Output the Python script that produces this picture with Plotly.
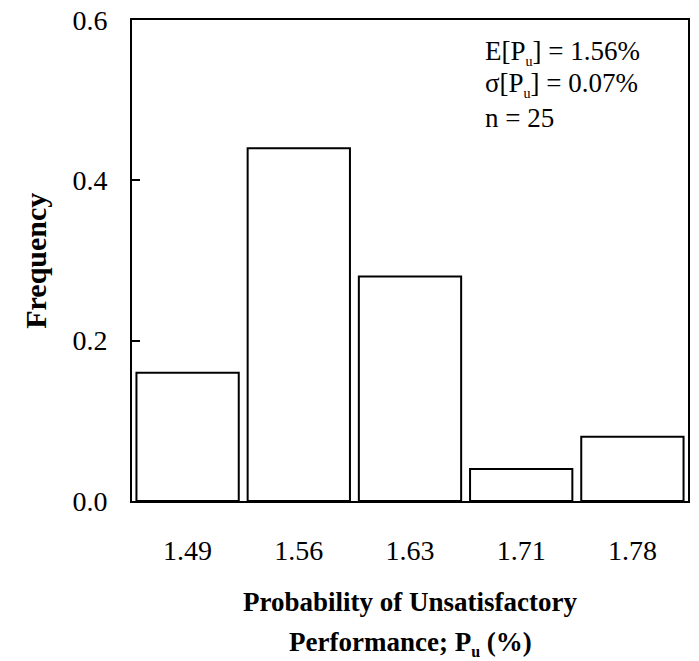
import plotly.graph_objects as go

categories = ["1.49", "1.56", "1.63", "1.71", "1.78"]
frequency = [0.16, 0.44, 0.28, 0.04, 0.08]
y_ticks = [0.0, 0.2, 0.4, 0.6]
y_tick_labels = ["0.0", "0.2", "0.4", "0.6"]
SUB_U = "<sub><span style='font-size:14px'>u</span></sub>"
stats_lines = [f"E[P{SUB_U}] = 1.56%", f"σ[P{SUB_U}] = 0.07%", "n = 25"]

SERIF = "Liberation Serif, Times New Roman, serif"

fig = go.Figure()
fig.add_trace(go.Bar(
    x=categories, y=frequency,
    marker=dict(color="white", line=dict(color="black", width=2)),
    width=0.92,
))

fig.update_layout(
    width=699, height=661,
    margin=dict(l=132, r=11, t=20, b=160),
    paper_bgcolor="white", plot_bgcolor="white",
    showlegend=False,
    font=dict(family=SERIF, size=20, color="black"),
    xaxis=dict(
        type="category", range=[-0.5, 4.5], automargin=False,
        showline=True, linecolor="black", linewidth=2, mirror=True,
        ticks="", showgrid=False, ticklabelstandoff=23,
        tickfont=dict(family=SERIF, size=28),
    ),
    yaxis=dict(
        range=[0, 0.6], tickvals=y_ticks, ticktext=y_tick_labels, automargin=False,
        showline=True, linecolor="black", linewidth=2, mirror=True,
        ticks="inside", ticklen=8, tickwidth=1.5, tickcolor="black",
        showgrid=False, zeroline=False, ticklabelstandoff=17,
        tickfont=dict(family=SERIF, size=28),
    ),
)

# y-axis title
fig.add_annotation(
    xref="paper", yref="paper", x=-0.174, y=0.5, xanchor="center", yanchor="middle",
    textangle=-90, showarrow=False, text="<b>Frequency</b>",
    font=dict(family=SERIF, size=30),
)

# statistics box text
for i, line in enumerate(stats_lines):
    fig.add_annotation(
        xref="paper", yref="paper", x=(483 - 132) / 556, y=1 - (52 - 20 + 33 * i) / 481,
        xanchor="left", yanchor="middle", align="left", showarrow=False,
        text=line, font=dict(family=SERIF, size=27),
    )

# x-axis title (two lines)
fig.add_annotation(
    xref="paper", yref="paper", x=0.5, y=-0.21, xanchor="center", yanchor="middle",
    showarrow=False, text="<b>Probability of Unsatisfactory</b>",
    font=dict(family=SERIF, size=27),
)
fig.add_annotation(
    xref="paper", yref="paper", x=0.5, y=-0.296, xanchor="center", yanchor="middle",
    showarrow=False, text="<b>Performance; P<sub><span style='font-size:16px'>u</span></sub> (%)</b>",
    font=dict(family=SERIF, size=27),
)

fig.write_html("out.html", config={"displayModeBar": False},
               post_script="document.body.style.margin='0';")
